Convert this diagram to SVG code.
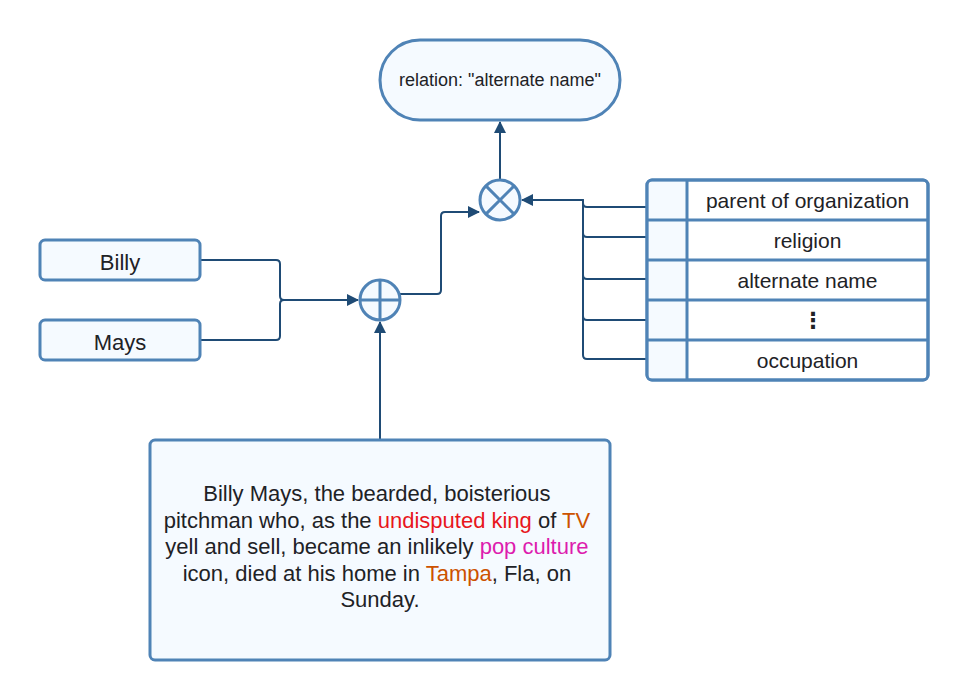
<svg xmlns="http://www.w3.org/2000/svg" width="967" height="700" viewBox="0 0 967 700">
<defs>
<style>
.node{fill:#f5faff;stroke:#4f83b6;stroke-width:3}
.cell{fill:#ffffff;stroke:#4f83b6;stroke-width:3}
.op{fill:none;stroke:#4f83b6;stroke-width:3}
.conn{fill:none;stroke:#1f4b75;stroke-width:2;stroke-linejoin:round}
.t{font-family:"Liberation Sans",Arial,sans-serif;fill:#1e2226;text-anchor:middle}
</style>
<marker id="arr" viewBox="0 0 12 12" refX="11" refY="6" markerWidth="12" markerHeight="12" markerUnits="userSpaceOnUse" orient="auto">
<path d="M0,0 L12,6 L0,12 Z" fill="#1f4b75"/>
</marker>
</defs>
<rect width="967" height="700" fill="#ffffff"/>
<g id="connectors">
<path class="conn" d="M500,180 L500,122" marker-end="url(#arr)"/>
<path class="conn" d="M200,260 L276,260 Q280,260 280,264 L280,296 Q280,300 284,300 L358,300" marker-end="url(#arr)"/>
<path class="conn" d="M200,340 L276,340 Q280,340 280,336 L280,304 Q280,300 284,300"/>
<path class="conn" d="M380,440 L380,322" marker-end="url(#arr)"/>
<path class="conn" d="M400,294 L437,294 Q441,294 441,290 L441,216 Q441,212 445,212 L479,212" marker-end="url(#arr)"/>
<path class="conn" d="M647,207 L587,207 Q583,207 583,203 L583,200 L522,200" marker-end="url(#arr)"/>
<path class="conn" d="M647,237 L587,237 Q583,237 583,233 L583,200 Q583,200 579,200"/>
<path class="conn" d="M647,279 L587,279 Q583,279 583,275 L583,230"/>
<path class="conn" d="M647,320 L587,320 Q583,320 583,316 L583,270"/>
<path class="conn" d="M647,359 L587,359 Q583,359 583,355 L583,310"/>
</g>
<g id="relation">
<rect class="node" x="380" y="40" width="240" height="80" rx="40" ry="40"/>
<text class="t" x="500" y="86" font-size="18">relation: "alternate name"</text>
</g>
<g id="otimes">
<circle class="node" cx="500" cy="200" r="20"/>
<path class="op" d="M485.9,185.9 L514.1,214.1 M514.1,185.9 L485.9,214.1"/>
</g>
<g id="oplus">
<circle class="node" cx="380" cy="300" r="20"/>
<path class="op" d="M360,300 L400,300 M380,280 L380,320"/>
</g>
<g id="billy">
<rect class="node" x="40" y="240" width="160" height="40" rx="5"/>
<text class="t" x="120" y="270" font-size="22">Billy</text>
</g>
<g id="mays">
<rect class="node" x="40" y="320" width="160" height="40" rx="5"/>
<text class="t" x="120" y="350" font-size="22">Mays</text>
</g>
<g id="sentence">
<rect class="node" x="150" y="440" width="460" height="220" rx="5"/>
<text class="t" font-size="22">
<tspan x="380" y="501">Billy Mays, the bearded, boisterious</tspan>
<tspan x="380" y="527.5">pitchman who, as the <tspan fill="#e8161c">undisputed king</tspan> of <tspan fill="#cc5200">TV</tspan></tspan>
<tspan x="380" y="554">yell and sell, became an inlikely <tspan fill="#dd1cae">pop culture</tspan></tspan>
<tspan x="380" y="580.5">icon, died at his home in <tspan fill="#cc5200">Tampa</tspan>, Fla, on</tspan>
<tspan x="380" y="607">Sunday.</tspan>
</text>
</g>
<g id="relations-table">
<rect class="cell" x="647" y="180" width="281" height="200" rx="5"/>
<rect x="648.5" y="181.5" width="38.5" height="197" fill="#f5faff"/>
<path class="op" d="M687,180 L687,380 M647,220 L928,220 M647,260 L928,260 M647,300 L928,300 M647,340 L928,340"/>
<rect x="647" y="180" width="281" height="200" rx="5" fill="none" stroke="#4f83b6" stroke-width="3"/>
<text class="t" x="807.5" y="208" font-size="21">parent of organization</text>
<text class="t" x="807.5" y="248" font-size="21">religion</text>
<text class="t" x="807.5" y="288" font-size="21">alternate name</text>
<text class="t" x="813" y="328" font-size="22" font-weight="bold" style="font-family:'DejaVu Sans',sans-serif">⋮</text>
<text class="t" x="807.5" y="368" font-size="21">occupation</text>
</g>
</svg>
